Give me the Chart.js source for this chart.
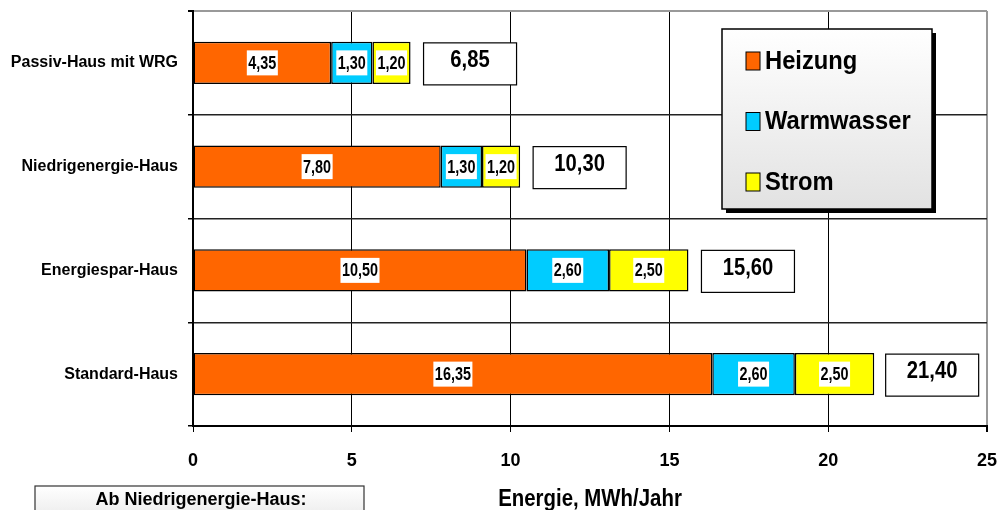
<!DOCTYPE html>
<html>
<head>
<meta charset="utf-8">
<script src="https://cdn.jsdelivr.net/npm/chart.js@4.4.1/dist/chart.umd.min.js"></script>
<style>
  html, body { margin: 0; padding: 0; background: #ffffff; }
  canvas { display: block; }
</style>
</head>
<body>
<canvas id="c" width="999" height="510"></canvas>
<script>
// Haustypen und Energieverbrauch (MWh/Jahr)
const categories = ['Passiv-Haus mit WRG', 'Niedrigenergie-Haus', 'Energiespar-Haus', 'Standard-Haus'];
const heizung    = [4.35, 7.80, 10.50, 16.35];
const warmwasser = [1.30, 1.30, 2.60, 2.60];
const strom      = [1.20, 1.20, 2.50, 2.50];
const gesamt     = [6.85, 10.30, 15.60, 21.40];
const seriesNames = ['Heizung', 'Warmwasser', 'Strom'];
const seriesColors = ['#FF6600', '#00CCFF', '#FFFF00'];
const xTicks = [0, 5, 10, 15, 20, 25];

const FONT = "'Liberation Sans', Arial, sans-serif";

function fmt(v) { return v.toFixed(2).replace('.', ','); }

function noScalePadding(scale) {
  scale.paddingLeft = 0;
  scale.paddingRight = 0;
  scale.paddingTop = 0;
  scale.paddingBottom = 0;
}

// schmal gesetzter Text (horizontal gestaucht)
function narrowText(ctx, txt, x, y, sx) {
  ctx.save();
  ctx.translate(x, y);
  ctx.scale(sx, 1);
  ctx.fillText(txt, 0, 0);
  ctx.restore();
}

// Wertebeschriftungen in den Balkensegmenten und Summenkästen
const labelPlugin = {
  id: 'labels',
  afterDatasetsDraw(chart) {
    const ctx = chart.ctx;
    ctx.save();
    ctx.textAlign = 'center';
    ctx.textBaseline = 'middle';
    const segScale = 0.8;
    ctx.font = 'bold 18px ' + FONT;
    chart.data.datasets.forEach((ds, di) => {
      const meta = chart.getDatasetMeta(di);
      meta.data.forEach((bar, i) => {
        const txt = fmt(ds.data[i]);
        const cx = (bar.x + bar.base) / 2;
        const cy = bar.y;
        const w = ctx.measureText(txt).width * segScale + 3;
        ctx.fillStyle = '#ffffff';
        ctx.fillRect(cx - w / 2, cy - 12.5, w, 25);
        ctx.fillStyle = '#000000';
        narrowText(ctx, txt, cx, cy + 1, segScale);
      });
    });
    // Summenkästen rechts neben den Balken
    const xs = chart.scales.x;
    const first = chart.getDatasetMeta(0).data;
    ctx.font = 'bold 23px ' + FONT;
    gesamt.forEach((v, i) => {
      const bar = first[i];
      const h = bar.height;
      const left = xs.getPixelForValue(v) + 13;
      const top = bar.y - h / 2 + 1;
      const w = 93;
      ctx.fillStyle = '#ffffff';
      ctx.fillRect(left, top, w, h);
      ctx.strokeStyle = '#000000';
      ctx.lineWidth = 1.2;
      ctx.strokeRect(left, top, w, h);
      ctx.fillStyle = '#000000';
      narrowText(ctx, fmt(v), left + w / 2, top + h / 2 - 3, 0.88);
    });
    ctx.restore();
  },
  afterDraw(chart) {
    const ctx = chart.ctx;
    ctx.save();
    // Legende mit Schatten
    const lx = 722, ly = 29, lw = 210, lh = 180;
    ctx.fillStyle = '#000000';
    ctx.fillRect(lx + 4, ly + 4, lw, lh);
    const g = ctx.createLinearGradient(0, ly, 0, ly + lh);
    g.addColorStop(0, '#ffffff');
    g.addColorStop(1, '#e2e2e2');
    ctx.fillStyle = g;
    ctx.fillRect(lx, ly, lw, lh);
    ctx.strokeStyle = '#000000';
    ctx.lineWidth = 1.5;
    ctx.strokeRect(lx, ly, lw, lh);
    ctx.font = 'bold 25px ' + FONT;
    ctx.textAlign = 'left';
    ctx.textBaseline = 'middle';
    seriesNames.forEach((name, i) => {
      const cy = 61 + i * 60.5;
      ctx.fillStyle = seriesColors[i];
      ctx.fillRect(746, cy - 9, 14, 18);
      ctx.strokeStyle = '#000000';
      ctx.lineWidth = 1;
      ctx.strokeRect(746, cy - 9, 14, 18);
      ctx.fillStyle = '#000000';
      narrowText(ctx, name, 765, cy + 1, 0.95);
    });
    // Achsentitel
    ctx.font = 'bold 24px ' + FONT;
    ctx.textAlign = 'center';
    narrowText(ctx, 'Energie, MWh/Jahr', 590, 499, 0.85);
    // Hinweiskasten unten links
    const bx = 35, by = 486, bw = 329, bh = 40;
    const g2 = ctx.createLinearGradient(0, by, 0, by + bh);
    g2.addColorStop(0, '#ffffff');
    g2.addColorStop(1, '#e6e6e6');
    ctx.fillStyle = g2;
    ctx.fillRect(bx, by, bw, bh);
    ctx.strokeStyle = '#333333';
    ctx.lineWidth = 1.2;
    ctx.strokeRect(bx, by, bw, bh);
    ctx.fillStyle = '#000000';
    ctx.font = 'bold 18px ' + FONT;
    ctx.fillText('Ab Niedrigenergie-Haus:', 201, 500);
    ctx.restore();
  }
};

const datasets = [heizung, warmwasser, strom].map((d, i) => ({
  label: seriesNames[i],
  data: d,
  backgroundColor: seriesColors[i],
  borderColor: '#000000',
  borderWidth: 1.5,
  borderSkipped: false,
  barPercentage: 0.405,
  categoryPercentage: 1.0
}));

new Chart(document.getElementById('c'), {
  type: 'bar',
  data: { labels: categories, datasets },
  options: {
    indexAxis: 'y',
    responsive: false,
    animation: false,
    devicePixelRatio: 1,
    layout: { padding: { left: 0, top: 11, right: 12, bottom: 0 } },
    plugins: { legend: { display: false }, tooltip: { enabled: false } },
    scales: {
      x: {
        stacked: true,
        min: 0, max: 25,
        afterBuildTicks(scale) { scale.ticks = xTicks.map(v => ({ value: v })); },
        afterFit(scale) { scale.height = 84; noScalePadding(scale); },
        ticks: {
          color: '#000000',
          font: { family: FONT, size: 18, weight: 'bold' },
          padding: 18
        },
        grid: {
          color: ctx => ctx.tick && ctx.tick.value === 25 ? '#999999' : '#000000',
          lineWidth: ctx => ctx.tick && ctx.tick.value === 25 ? 2 : 1,
          tickLength: 6,
          tickColor: '#000000',
          drawOnChartArea: true
        },
        border: { color: '#000000', width: 2 }
      },
      y: {
        stacked: true,
        offset: true,
        afterFit(scale) { scale.width = 193; noScalePadding(scale); },
        ticks: {
          color: '#000000',
          font: { family: FONT, size: 16, weight: 'bold' },
          padding: 10
        },
        grid: {
          offset: true,
          color: ctx => ctx.index === 0 ? '#999999' : '#222222',
          lineWidth: ctx => ctx.index === 0 ? 2 : 1.5,
          tickLength: 5,
          tickColor: '#000000'
        },
        border: { color: '#000000', width: 2 }
      }
    }
  },
  plugins: [labelPlugin]
});
</script>
</body>
</html>
